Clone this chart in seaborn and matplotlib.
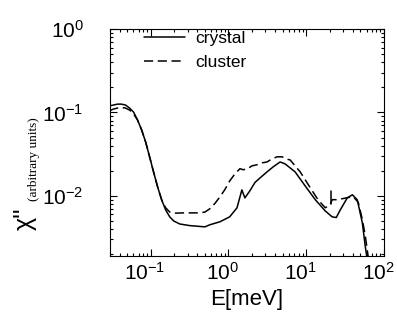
import matplotlib
matplotlib.use("Agg")
import matplotlib.pyplot as plt
import matplotlib.transforms as mtransforms
from matplotlib.lines import Line2D
import seaborn as sns
import numpy as np
import pandas as pd

# ---- data ----
crystal_E = [0.0296, 0.0334, 0.0375, 0.042, 0.0475, 0.0536, 0.0604, 0.068, 0.0765, 0.0862,
             0.097, 0.109, 0.123, 0.139, 0.156, 0.176, 0.198, 0.237, 0.318, 0.50,
             0.577, 0.78, 1.04, 1.29, 1.41, 1.49, 1.63, 1.89, 2.20, 2.55,
             3.14, 3.75, 4.62, 5.36, 7.21, 9.70, 13.1, 17.6, 21.6, 24.4,
             27.5, 33.8, 39.3, 45.5, 52.8, 57.7, 61.2]
crystal_chi = [0.120, 0.123, 0.126, 0.126, 0.123, 0.113, 0.101, 0.081, 0.062, 0.0444,
               0.0294, 0.0194, 0.0128, 0.0089, 0.0068, 0.0056, 0.0050, 0.0046, 0.0044, 0.00425,
               0.0045, 0.00489, 0.00561, 0.00718, 0.00973, 0.0118, 0.00946, 0.0115, 0.0145, 0.0164,
               0.0194, 0.0222, 0.0255, 0.0242, 0.0194, 0.0132, 0.0090, 0.0066, 0.0056, 0.0055,
               0.0068, 0.00946, 0.0103, 0.00896, 0.00475, 0.00245, 0.0017]

cluster_E = [0.0296, 0.0334, 0.0375, 0.042, 0.0475, 0.0536, 0.0604, 0.068, 0.0765, 0.0862,
             0.097, 0.109, 0.123, 0.139, 0.156, 0.176, 0.198, 0.275, 0.428, 0.50,
             0.577, 0.670, 0.777, 0.901, 1.04, 1.21, 1.41, 1.54, 1.73, 2.01,
             2.33, 2.71, 3.14, 3.64, 4.23, 4.90, 5.69, 6.22, 8.38, 11.3,
             14.2, 17.6, 20.4, 21.6, 25.1, 33.8, 40.4, 46.9, 52.8, 57.7, 63.1]
cluster_chi = [0.105, 0.110, 0.113, 0.115, 0.113, 0.107, 0.096, 0.081, 0.062, 0.0444,
               0.0294, 0.0194, 0.0128, 0.0089, 0.0072, 0.0064, 0.0062, 0.00625, 0.00625, 0.0064,
               0.0070, 0.0081, 0.0097, 0.0119, 0.0151, 0.0183, 0.0212, 0.0206, 0.0209, 0.0229,
               0.0236, 0.0249, 0.0255, 0.0278, 0.0294, 0.0294, 0.0275, 0.027, 0.0194, 0.0125,
               0.0090, 0.0072, 0.0078, 0.0090, 0.0090, 0.0095, 0.0098, 0.0083, 0.0052, 0.0033, 0.0018]

mark_E = [21.0, 21.0]
mark_chi = [0.0079, 0.0113]

labels = ["crystal", "cluster"]

# ---- style ----
sns.set_style("ticks")
plt.rcParams['font.family'] = ['Liberation Sans', 'DejaVu Sans']
plt.rcParams['mathtext.fontset'] = 'custom'
plt.rcParams['mathtext.rm'] = 'Liberation Sans'
plt.rcParams['mathtext.it'] = 'Liberation Sans:italic'
plt.rcParams['mathtext.bf'] = 'Liberation Sans:bold'
for k in ['text.color', 'axes.labelcolor', 'xtick.color', 'ytick.color', 'axes.edgecolor']:
    plt.rcParams[k] = 'black'

fig = plt.figure(figsize=(3.97, 3.20), dpi=100)
ax = fig.add_axes([0.277, 0.200, 0.690, 0.709])

df_c = pd.DataFrame({"E": crystal_E, "chi": crystal_chi})
df_k = pd.DataFrame({"E": cluster_E, "chi": cluster_chi})

sns.lineplot(data=df_c, x="E", y="chi", ax=ax, color="black", lw=1.1,
             estimator=None, sort=False, legend=False)
sns.lineplot(data=df_k, x="E", y="chi", ax=ax, color="black", lw=1.1,
             estimator=None, sort=False, legend=False)
ax.lines[1].set_dashes((6, 3))
ax.plot(mark_E, mark_chi, color="black", lw=1.1)

ax.set_xscale("log")
ax.set_yscale("log")
ax.set_xlim(0.03, 100)
ax.set_ylim(0.0019, 1.0)

ax.tick_params(which="both", direction="in", top=True, right=True, width=0.8)
ax.tick_params(which="major", length=5)
ax.tick_params(which="minor", length=2.5)
ax.tick_params(axis="y", which="major", pad=19, labelsize=15)
ax.tick_params(axis="x", which="major", pad=4, labelsize=15)
for s in ax.spines.values():
    s.set_linewidth(0.8)

ax.set_xlabel("E[meV]", fontsize=16, labelpad=4)
ax.set_ylabel("")

fig.text(0.063, 0.316, "\u03c7''", rotation=90, fontsize=18, ha="center", va="center")
fig.text(0.086, 0.503, "(arbitrary units)", family="Liberation Serif", fontsize=9.5,
         rotation=90, ha="center", va="center")

handles = [Line2D([], [], color="black", lw=1.1),
           Line2D([], [], color="black", lw=1.1, dashes=(6, 3))]
ax.legend(handles, labels, loc="upper left", bbox_to_anchor=(0.117, 1.0), frameon=False,
          fontsize=12.5, handlelength=2.4, handletextpad=0.55,
          borderaxespad=0.1, borderpad=0.0, labelspacing=0.5)

fig.canvas.draw()
offset = mtransforms.ScaledTranslation(-6 / 100, 0, fig.dpi_scale_trans)
for lab in ax.xaxis.get_majorticklabels():
    lab.set_transform(lab.get_transform() + offset)

fig.savefig("out.png", dpi=100)
